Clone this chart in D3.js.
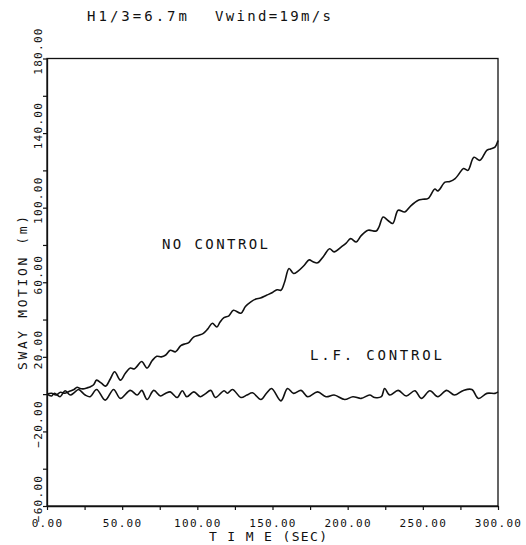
<!DOCTYPE html>
<html>
<head>
<meta charset="utf-8">
<script src="https://cdn.jsdelivr.net/npm/d3@7"></script>
<style>
    body { margin: 0; background: #fff; }
    text { font-family: "DejaVu Sans Mono", monospace; fill: #111; }
</style>
</head>
<body>
<script>
//sway motion data (time in sec, sway in m)
var noControlTime = [0, 3, 6, 9, 12, 15, 18, 20, 22, 24, 26.5, 29, 31, 33, 36, 39, 42, 45, 48.8, 52, 55.4, 58, 60, 63, 66.6, 70, 73, 76, 79, 82, 85.5, 89, 92, 94, 97.5, 101, 104, 107, 110, 113, 115, 117.7, 121, 124, 129, 132, 135.6, 139, 142, 146, 150, 153, 155.6, 158, 161, 164, 167, 171, 174.4, 177, 180, 184, 188, 191, 195.8, 199, 202, 205.7, 209, 213.6, 219, 221, 223.6, 227, 230, 233.6, 238, 242, 247, 250, 253.6, 258, 260, 264.8, 268, 271.5, 274, 277, 280, 284, 288, 292.5, 295, 298, 300];
var noControlSway = [0, 0.5, -0.5, 1, 0.5, 1.5, 2.5, 3.7, 3, 2.8, 3.3, 4, 5, 7.5, 6, 4.3, 8, 12, 7.5, 11, 14, 13.5, 15, 17.5, 14, 18, 20.3, 20, 21, 23.5, 22.7, 26, 27, 27.5, 30.6, 31.6, 32.6, 35, 38, 36, 38.5, 41, 42, 45, 43.4, 47, 49.5, 51, 51.5, 53, 54.5, 56, 55.7, 60, 67.4, 64.7, 66, 69, 72, 71, 70.4, 74, 78, 76.3, 79, 81, 83.4, 81.6, 85, 87.9, 87.5, 90, 95, 93, 91.5, 98.6, 97.7, 101, 104, 104.5, 105, 110, 109, 113.7, 114, 115.6, 118, 121, 120, 127, 125.4, 130.7, 131.5, 132.5, 136];

var lfControlTime = [0, 3, 5, 8.7, 12, 15.4, 18.7, 21, 25.4, 28.7, 33, 38.7, 44.3, 48.8, 55.4, 60, 63, 66.6, 71, 75.5, 79, 82, 86.6, 90, 93, 97.7, 102, 105, 109, 112, 117.8, 120, 123.4, 129, 133, 136.7, 142.3, 146, 149.4, 155.6, 160, 164, 169, 173.4, 180, 185.6, 191, 198, 203.5, 209, 214.6, 218, 222.4, 224.6, 228, 233.6, 239, 244.7, 249, 254.7, 260, 265.8, 271, 277, 282.6, 287, 292.6, 298, 300];
var lfControlSway = [0, -1, 0.5, -1.4, 1.8, -0.5, 1.2, 2.5, -0.5, -1.4, 2.5, -3.2, 2.5, -2.3, 2, -0.5, 2, -2.9, 2, -1, 0.5, 1.2, -1.8, 1.8, -1.4, 1.2, -1.4, 0, 2, -1.8, 1.8, 0.5, 2.5, -1.8, -0.5, 0.7, -2.9, 0.5, 3, -3.6, 3, 0.4, 2, -1.4, 1.2, -1.4, -0.5, -2.9, -1.4, -2.3, -0.5, -1.8, -1.4, 3, -0.5, 2, -1, 1.8, -2.3, 1.8, -1.4, 2, -0.5, 2, 2.5, -2.3, 0.4, 0.4, 1.2];

//axis ticks
var xTicks = [0, 25, 50, 75, 100, 125, 150, 175, 200, 225, 250, 275, 300];
var xLabels = [0, 50, 100, 150, 200, 250, 300];
var yTicks = [-60, -40, -20, 0, 20, 40, 60, 80, 100, 120, 140, 160, 180];
var yLabels = [-60, -20, 20, 60, 100, 140, 180];

window.onload = function () {

    var w = 526, h = 545;
    var left = 47, right = 498, top = 58.5, bottom = 506;

    var svg = d3.select("body")
        .append("svg")
        .attr("width", w)
        .attr("height", h);

    //scales
    var x = d3.scaleLinear()
        .domain([0, 300])
        .range([left, right]);

    var y = d3.scaleLinear()
        .domain([-60, 180])
        .range([bottom, top]);

    var fmt = d3.format(".2f");

    //frame
    svg.append("rect")
        .attr("x", left)
        .attr("y", top)
        .attr("width", right - left)
        .attr("height", bottom - top)
        .style("fill", "none")
        .style("stroke", "#111")
        .style("stroke-width", 1.3);

    //x axis
    var xAxis = d3.axisBottom(x)
        .tickValues(xTicks)
        .tickSizeInner(4)
        .tickSizeOuter(0)
        .tickFormat(function (d) { return xLabels.indexOf(d) >= 0 ? fmt(d) : ""; });

    var gx = svg.append("g")
        .attr("transform", "translate(0," + bottom + ")")
        .call(xAxis);

    gx.select(".domain").style("stroke", "#111").style("stroke-width", 1.3);
    gx.selectAll(".tick line").style("stroke", "#111").style("stroke-width", 1.2);
    gx.selectAll(".tick text")
        .attr("y", 21)
        .attr("dy", 0)
        .style("font-size", "11px")
        .style("letter-spacing", "1.3px")
        .style("fill", "#111");

    //y axis
    var yAxis = d3.axisLeft(y)
        .tickValues(yTicks)
        .tickSizeInner(4)
        .tickSizeOuter(0)
        .tickFormat(function (d) { return yLabels.indexOf(d) >= 0 ? fmt(d) : ""; });

    var gy = svg.append("g")
        .attr("transform", "translate(" + left + ",0)")
        .call(yAxis);

    gy.select(".domain").style("stroke", "#111").style("stroke-width", 1.3);
    gy.selectAll(".tick line").style("stroke", "#111").style("stroke-width", 1.2);
    gy.selectAll(".tick text")
        .attr("transform", "rotate(-90)")
        .attr("text-anchor", "middle")
        .attr("x", 8)
        .attr("y", -5)
        .attr("dy", 0)
        .style("font-size", "11px")
        .style("letter-spacing", "1.3px")
        .style("fill", "#111");

    //lines
    var line = d3.line()
        .x(function (d) { return x(d[0]); })
        .y(function (d) { return y(d[1]); })
        .curve(d3.curveCatmullRom.alpha(0.5));

    var series = [
        d3.zip(noControlTime, noControlSway),
        d3.zip(lfControlTime, lfControlSway)
    ];

    svg.selectAll(".series")
        .data(series)
        .enter()
        .append("path")
        .attr("class", "series")
        .attr("d", line)
        .style("fill", "none")
        .style("stroke", "#111")
        .style("stroke-width", 1.6);

    //title
    svg.append("text")
        .attr("x", 87)
        .attr("y", 21)
        .attr("textLength", 100)
        .attr("lengthAdjust", "spacing")
        .style("font-size", "14px")
        .text("H1/3=6.7m");

    svg.append("text")
        .attr("x", 215)
        .attr("y", 21)
        .attr("textLength", 116)
        .attr("lengthAdjust", "spacing")
        .style("font-size", "14px")
        .text("Vwind=19m/s");

    //axis titles
    svg.append("text")
        .attr("text-anchor", "middle")
        .attr("x", 268)
        .attr("y", 541)
        .attr("textLength", 118)
        .attr("lengthAdjust", "spacing")
        .style("font-size", "13px")
        .text("T I M E (SEC)");

    svg.append("text")
        .attr("text-anchor", "middle")
        .attr("transform", "translate(27,293) rotate(-90)")
        .attr("textLength", 154)
        .attr("lengthAdjust", "spacing")
        .style("font-size", "13px")
        .text("SWAY MOTION (m)");

    //series labels
    svg.append("text")
        .attr("x", 162)
        .attr("y", 249)
        .attr("textLength", 106)
        .attr("lengthAdjust", "spacing")
        .style("font-size", "14px")
        .text("NO CONTROL");

    svg.append("text")
        .attr("x", 310)
        .attr("y", 360)
        .attr("textLength", 132)
        .attr("lengthAdjust", "spacing")
        .style("font-size", "14px")
        .text("L.F. CONTROL");

};
</script>
</body>
</html>
